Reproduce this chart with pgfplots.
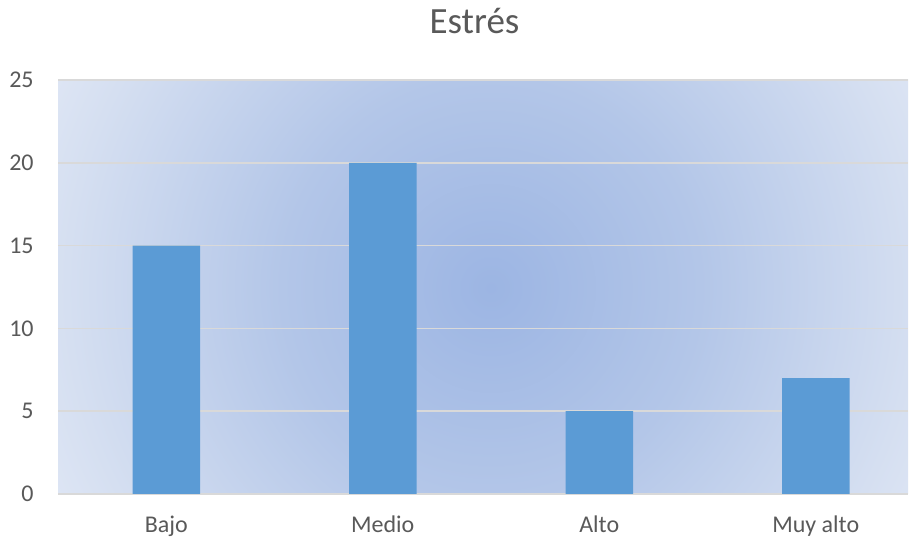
\documentclass[border=0pt]{standalone}
\usepackage{pgfplots}
\pgfplotsset{compat=1.18}
\usepackage{fontspec}
\setmainfont{Carlito}
\definecolor{txt}{HTML}{595959}
\definecolor{gridc}{HTML}{D9D9D9}
\definecolor{barc}{HTML}{5B9BD5}
\definecolor{c0}{RGB}{156,181,227}
\definecolor{c1}{RGB}{179,198,232}
\definecolor{c2}{RGB}{213,223,241}
\definecolor{c3}{RGB}{221,229,244}
\pgfdeclareradialshading{excelradial}{\pgfpoint{0bp}{0bp}}{color(0bp)=(c0); color(10.9bp)=(c1); color(22.1bp)=(c2); color(25bp)=(c3); color(50bp)=(c3)}
\begin{document}
\begin{tikzpicture}
\useasboundingbox (0,0) rectangle (456pt,269.5pt);
\begin{scope}
\clip (29pt,22.5pt) rectangle (454pt,229.5pt);
\shade[shading=excelradial] (245.5pt,125.5pt) circle (240pt);
\end{scope}
\begin{axis}[
  at={(29pt,22.5pt)}, anchor=south west,
  scale only axis, width=425pt, height=207pt,
  xmin=-0.5, xmax=3.426, ymin=0, ymax=25,
  xtick={0,1,2,3}, xticklabels={Bajo,Medio,Alto,Muy alto},
  ytick={0,5,10,15,20,25},
  /pgf/number format/assume math mode=true,
  major tick length=0pt,
  tick style={draw=none},
  axis x line*=bottom,
  axis y line*=left,
  y axis line style={draw=none},
  x axis line style={draw=gridc, line width=0.75pt, -},
  ymajorgrids, grid style={draw=gridc, line width=0.75pt},
  ticklabel style={font=\fontsize{12}{14}\selectfont, text=txt},
  xticklabel style={anchor=base, inner sep=0pt, yshift=-19.3pt},
  yticklabel style={anchor=east, inner sep=0pt, xshift=-12pt},
  title={Estrés},
  title style={font=\fontsize{18.5}{21}\selectfont, text=txt, anchor=base, at={(0.5,1)}, inner sep=0pt, yshift=17pt, xshift=-4.25pt},
  ybar, bar width=33.75pt,
]
\addplot[fill=barc, draw=none] coordinates {(0,15) (1,20) (2,5) (3,7)};
\end{axis}
\end{tikzpicture}
\end{document}
